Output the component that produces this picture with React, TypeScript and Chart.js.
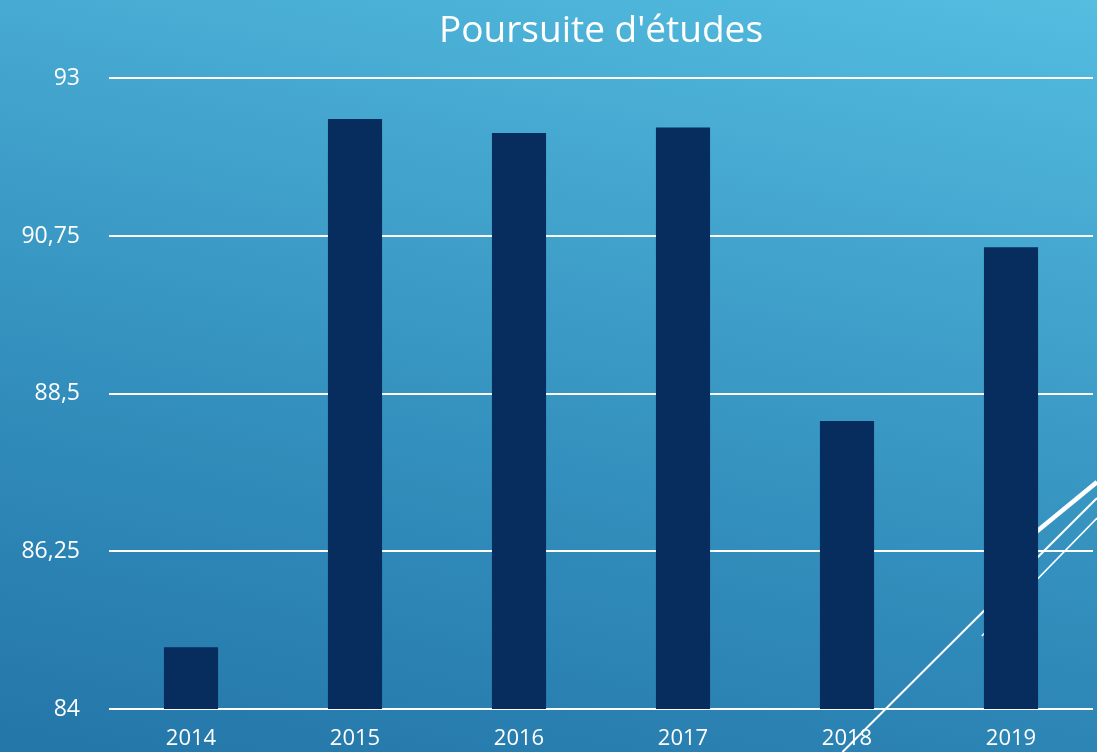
import React, { useEffect, useRef } from "react";
import { Chart, registerables } from "chart.js";

Chart.register(...registerables);

const categories = ["2014", "2015", "2016", "2017", "2018", "2019"];
const values = [84.88, 92.42, 92.22, 92.3, 88.11, 90.59];
const yTicks = [84, 86.25, 88.5, 90.75, 93];
const chartTitle = "Poursuite d'études";

const FONT = "'Open Sans', 'DejaVu Sans', sans-serif";

const decoPlugin = {
  id: "deco",
  beforeDatasetsDraw(chart: any) {
    const { ctx, width: W, height: H } = chart;
    ctx.save();
    ctx.strokeStyle = "#ffffff";
    ctx.lineCap = "butt";
    const line = (x1: number, y1: number, x2: number, y2: number, w: number) => {
      ctx.lineWidth = w;
      ctx.beginPath();
      ctx.moveTo(x1, y1);
      ctx.lineTo(x2, y2);
      ctx.stroke();
    };
    // decorative theme strokes (background ornament)
    line(W * 0.768, H, W, H - 254, 2);
    line(W * 0.895, H - 116, W, H - 234, 1.6);
    line(W * 0.92, H - 198, W, H - 270, 4.5);
    ctx.restore();
  },
};

export default function App() {
  const ref = useRef<HTMLCanvasElement>(null);
  useEffect(() => {
    document.body.style.margin = "0";
    const chart = new Chart(ref.current!, {
      type: "bar",
      data: {
        labels: categories,
        datasets: [
          {
            data: values,
            backgroundColor: "#062d5e",
            borderWidth: 0,
            barPercentage: 0.33,
            categoryPercentage: 1,
          },
        ],
      },
      plugins: [decoPlugin],
      options: {
        animation: false,
        responsive: true,
        maintainAspectRatio: false,
        layout: { padding: { left: 0, right: 4, top: 0, bottom: 0 } },
        plugins: {
          legend: { display: false },
          tooltip: { enabled: false },
          title: {
            display: true,
            text: chartTitle,
            color: "#ffffff",
            fullSize: false,
            font: { family: FONT, size: 37, weight: "normal" },
            padding: { top: 9, bottom: 25 },
          },
        },
        scales: {
          x: {
            grid: { display: false, drawTicks: false },
            border: { display: false },
            ticks: {
              color: "#ffffff",
              font: { family: FONT, size: 22 },
              padding: 17,
            },
            afterFit: (s: any) => {
              s.height = 43;
            },
          },
          y: {
            min: 84,
            max: 93,
            afterBuildTicks: (s: any) => {
              s.ticks = yTicks.map((v) => ({ value: v }));
            },
            grid: { color: "#ffffff", lineWidth: 2, drawTicks: false },
            border: { display: false },
            ticks: {
              color: "#ffffff",
              font: { family: FONT, size: 23 },
              padding: 29,
              callback: (v: any) => String(v).replace(".", ","),
            },
            afterFit: (s: any) => {
              s.width = 109;
            },
          },
        },
      },
    });
    return () => chart.destroy();
  }, []);
  return (
    <div
      style={{
        position: "fixed",
        left: 0,
        top: 0,
        width: 1097,
        height: 752,
        background:
          "linear-gradient(12deg, #2376a8 0%, #338fbd 40%, #46a9d1 75%, #54bde0 100%)",
      }}
    >
      <canvas ref={ref} />
    </div>
  );
}
